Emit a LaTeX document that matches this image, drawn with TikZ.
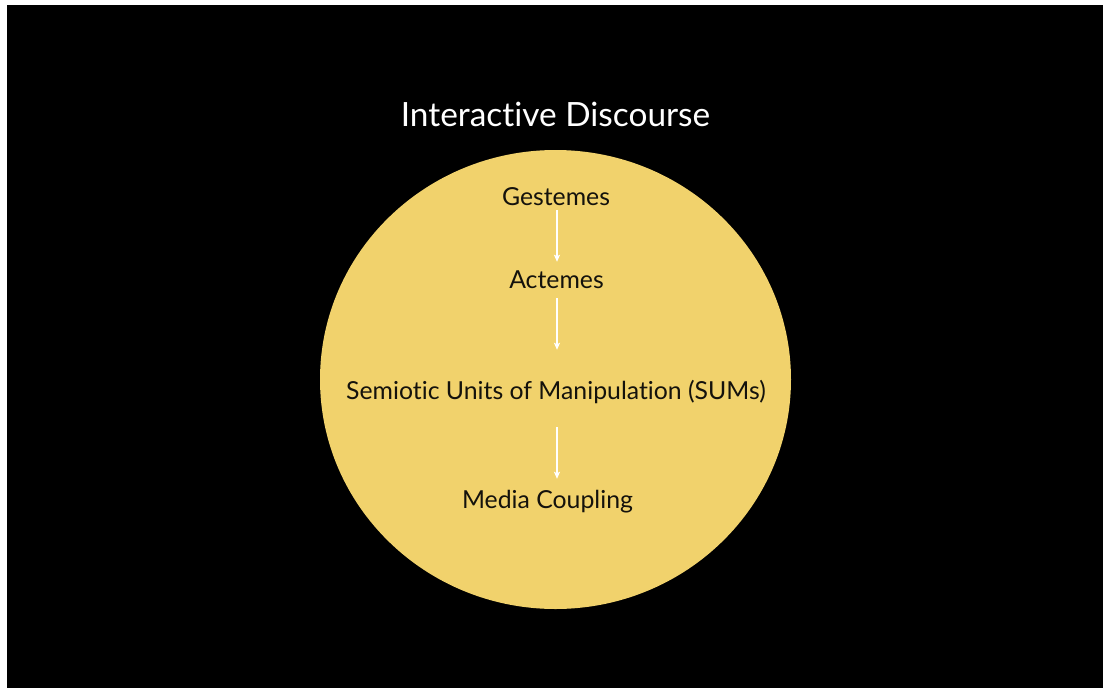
\documentclass[tikz,border=0pt]{standalone}
\usepackage{fontspec}
\setmainfont{Lato}[Ligatures={NoCommon,NoRare,NoDiscretionary}]
\usetikzlibrary{arrows.meta,calc}
\definecolor{slidebg}{RGB}{0,0,0}
\definecolor{discfill}{RGB}{241,210,108}
\definecolor{inktext}{RGB}{20,18,12}
\tikzset{
  level/.style={anchor=base, inner sep=0pt, text height=16pt, text depth=0pt,
    font=\fontsize{24.8}{28}\selectfont, text=inktext},
  heading/.style={anchor=base, inner sep=0pt, font=\fontsize{33.4}{40}\selectfont, text=white},
  flow/.style={draw=white, line width=1.4pt,
    -{Stealth[length=7pt,width=6pt,inset=1.5pt]}},
}
\begin{document}
\begin{tikzpicture}[x=1pt,y=-1pt]
  \useasboundingbox (0,0) rectangle (1103,688);
  \fill[white] (0,0) rectangle (1103,688);
  \fill[slidebg] (7,5) rectangle (1103,688);
  % the disc
  \fill[discfill] (555.5,379.5) ellipse [x radius=235.5, y radius=229.5];
  % title
  \node[heading] (title) at (555.5,126) {Interactive Discourse};
  % levels
  \node[level] (g) at (556,205) {Gestemes};
  \node[level] (a) at (556.5,288) {Actemes};
  \node[level] (s) at (556,399) {Semiotic Units of Manipulation (SUMs)};
  \node[level] (m) at (547.5,508) {Media Coupling};
  % connectors
  \draw[flow, shorten <=5pt, shorten >=10pt] ([xshift=1pt]g.south) -- ([xshift=1pt]g.south |- a.north);
  \draw[flow, shorten <=10pt, shorten >=33pt] ([xshift=0.5pt]a.south) -- ([xshift=0.5pt]a.south |- s.north);
  \draw[flow, shorten <=28pt, shorten >=13pt] ([xshift=1pt]s.south) -- ([xshift=1pt]s.south |- m.north);
\end{tikzpicture}
\end{document}
